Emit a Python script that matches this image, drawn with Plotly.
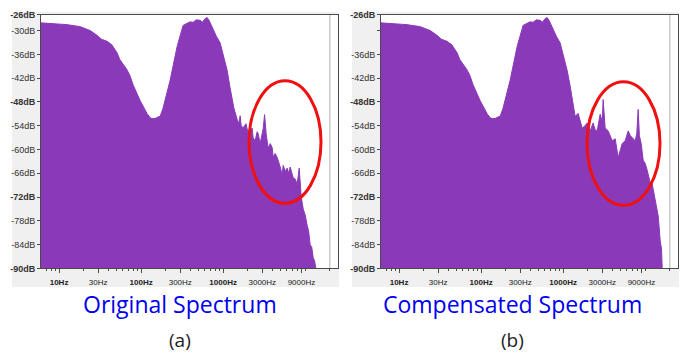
import plotly.graph_objects as go

# ---------------- data ----------------
# shared low/mid-frequency part of both spectra (Hz, dB)
low_freq = [5.5, 8, 12.5, 18, 24, 29, 33, 38.5, 44, 51, 55, 67, 73, 80, 97, 118, 129, 136,
            148, 161, 171, 185, 196, 226, 275, 325, 360, 396, 431, 470, 525, 560, 600, 638,
            680, 756, 830, 919, 1000, 1119]
low_db = [-28.0, -28.2, -28.5, -29.0, -30.0, -31.2, -32.2, -32.7, -33.6, -35.6, -37.3, -39.8,
          -41.3, -43.7, -47.6, -50.9, -52.0, -52.2, -52.2, -51.8, -51.6, -49.6, -47.5, -42.5,
          -34.0, -28.7, -28.2, -27.8, -27.9, -27.3, -27.4, -27.9, -27.0, -26.7, -27.6, -29.9,
          -31.5, -33.1, -36.0, -40.0]

# original spectrum, high-frequency part
orig_hi_freq = [1217, 1350, 1483, 1560, 1612, 1660, 1753, 1900, 2018, 2133, 2258, 2321, 2455,
                2599, 2673, 2826, 2950, 3074, 3200, 3343, 3540, 3750, 3960, 4074, 4300, 4560,
                4960, 5246, 5398, 5700, 6032, 6300, 6566, 7138, 7600, 7985, 8453, 8700, 8937,
                9459, 10000, 10580, 11000, 11510, 12000, 12530, 13000, 13630]
orig_hi_db = [-44.5, -49.5, -52.4, -53.5, -51.5, -54.0, -54.5, -53.5, -56.0, -55.3, -54.6, -57.0,
              -57.8, -55.5, -56.0, -58.5, -57.0, -54.8, -51.2, -56.0, -59.7, -58.5, -59.5, -62.0,
              -61.0, -62.0, -64.4, -66.4, -64.0, -65.5, -64.7, -66.0, -64.4, -67.1, -67.5, -68.8,
              -64.7, -70.5, -71.8, -75.0, -76.5, -79.2, -80.5, -84.1, -84.5, -87.3, -88.0, -90.5]

# compensated spectrum, high-frequency part
comp_hi_freq = [1217, 1400, 1525, 1706, 1850, 1963, 2133, 2321, 2450, 2599, 2826, 3000, 3074,
                3251, 3540, 3750, 3960, 4308, 4500, 4690, 5000, 5246, 5707, 6207, 6600, 6941,
                7552, 7900, 8216, 8500, 8937, 9459, 10000, 10580, 11510, 12000, 12530, 13630,
                14420, 15250, 15800, 16120, 16300]
comp_hi_db = [-44.0, -51.6, -50.9, -54.6, -54.0, -53.3, -55.3, -53.3, -55.0, -55.3, -51.1, -53.0,
              -47.4, -54.6, -55.3, -56.5, -57.8, -57.3, -60.0, -62.0, -60.0, -58.5, -57.8, -55.3,
              -56.5, -57.0, -57.8, -56.0, -49.9, -56.5, -58.5, -62.7, -63.5, -65.2, -68.4, -68.0,
              -70.1, -75.0, -76.8, -83.1, -85.0, -89.8, -90.5]

base_freq = [5.5, 30000]
base_db = [-100, -100]
nyquist_freq = [20000, 20000]
nyquist_db = [-90, -26]

x_tick_vals = [10, 30, 100, 300, 1000, 3000, 9000]
x_tick_text = ["<b>10Hz</b>", "30Hz", "<b>100Hz</b>", "300Hz", "<b>1000Hz</b>", "3000Hz", "9000Hz"]
y_tick_vals = [-26, -30, -36, -42, -48, -54, -60, -66, -72, -78, -84, -90]
y_tick_text_a = ["<b>-26dB</b>", "-30dB", "-36dB", "-42dB", "<b>-48dB</b>", "-54dB", "-60dB",
                 "-66dB", "<b>-72dB</b>", "-78dB", "-84dB", "<b>-90dB</b>"]
y_tick_text_b = ["<b>-26dB</b>", "", "-36dB", "-42dB", "<b>-48dB</b>", "-54dB", "-60dB",
                 "-66dB", "<b>-72dB</b>", "-78dB", "-84dB", "<b>-90dB</b>"]
titles = ["Original Spectrum", "Compensated Spectrum"]
captions = ["(a)", "(b)"]

# ---------------- styling ----------------
W, H = 686, 359
PURPLE = "#8a3ab9"
px_x = lambda p: p / W
px_y = lambda p: 1 - p / H

fig = go.Figure()

panels = [
    dict(xa="x", ya="y", hf=orig_hi_freq, hd=orig_hi_db),
    dict(xa="x2", ya="y2", hf=comp_hi_freq, hd=comp_hi_db),
]
for p in panels:
    fig.add_trace(go.Scatter(x=base_freq, y=base_db, mode="lines", line=dict(width=0),
                             xaxis=p["xa"], yaxis=p["ya"], showlegend=False, hoverinfo="skip"))
    fig.add_trace(go.Scatter(x=low_freq + p["hf"], y=low_db + p["hd"], mode="lines",
                             line=dict(color=PURPLE, width=1), fill="tonexty",
                             fillcolor=PURPLE, xaxis=p["xa"], yaxis=p["ya"], showlegend=False))
    fig.add_trace(go.Scatter(x=nyquist_freq, y=nyquist_db, mode="lines",
                             line=dict(color="#b0b0b0", width=1),
                             xaxis=p["xa"], yaxis=p["ya"], showlegend=False, hoverinfo="skip"))

left_dom = [px_x(41), px_x(338)]
right_dom = [px_x(381), px_x(678)]
y_dom = [px_y(271), px_y(10)]

axis_common = dict(showline=True, linecolor="#4a4a4a", linewidth=1, mirror=True,
                   showgrid=False, zeroline=False, ticks="outside", tickcolor="#4a4a4a")

xcommon = dict(type="log", range=[0.78, 4.40], tickvals=x_tick_vals, ticktext=x_tick_text,
               ticklen=4, ticklabelstandoff=2,
               tickfont=dict(family="Liberation Sans", size=8, color="#222"),
               minor=dict(ticks="outside", ticklen=2, tickcolor="#4a4a4a", dtick="D1", showgrid=False),
               **axis_common)
ycommon = dict(range=[-90, -26], tickvals=y_tick_vals, ticklen=3,
               tickfont=dict(family="Liberation Sans", size=9, color="#333"), **axis_common)

fig.update_layout(
    width=W, height=H, autosize=False,
    margin=dict(l=0, r=0, t=0, b=0),
    paper_bgcolor="white", plot_bgcolor="white",
    xaxis=dict(domain=left_dom, anchor="y", **xcommon),
    yaxis=dict(domain=y_dom, anchor="x", ticktext=y_tick_text_a, **ycommon),
    xaxis2=dict(domain=right_dom, anchor="y2", **xcommon),
    yaxis2=dict(domain=y_dom, anchor="x2", ticktext=y_tick_text_b, **ycommon),
)

shapes = []
for x0, x1 in [(12, 339), (352, 679)]:
    shapes.append(dict(type="rect", xref="paper", yref="paper", x0=px_x(x0), x1=px_x(x1),
                       y0=px_y(290), y1=px_y(7), fillcolor="#f0f0f0", line=dict(width=0),
                       layer="below"))
for dom in [left_dom, right_dom]:
    shapes.append(dict(type="rect", xref="paper", yref="paper", x0=dom[0], x1=dom[1],
                       y0=y_dom[0], y1=y_dom[1], fillcolor="white", line=dict(width=0),
                       layer="below"))
for (x0, x1, y0, y1) in [(249, 321, 78, 204), (587, 660, 79, 206)]:
    shapes.append(dict(type="circle", xref="paper", yref="paper", x0=px_x(x0), x1=px_x(x1),
                       y0=px_y(y1), y1=px_y(y0), line=dict(color="#f01010", width=3)))
fig.update_layout(shapes=shapes)

for cx, t, c in [(180, titles[0], captions[0]), (512, titles[1], captions[1])]:
    fig.add_annotation(x=px_x(cx), y=px_y(308), xref="paper", yref="paper", text=t,
                       showarrow=False, font=dict(family="Open Sans", size=23, color="#0000ee"),
                       xanchor="center", yanchor="middle")
    fig.add_annotation(x=px_x(cx), y=px_y(345), xref="paper", yref="paper", text=c,
                       showarrow=False, font=dict(family="Open Sans", size=19, color="#222"),
                       xanchor="center", yanchor="middle")

fig.write_html("out.html", config={"displayModeBar": False},
               post_script="document.body.style.margin='0px';")
